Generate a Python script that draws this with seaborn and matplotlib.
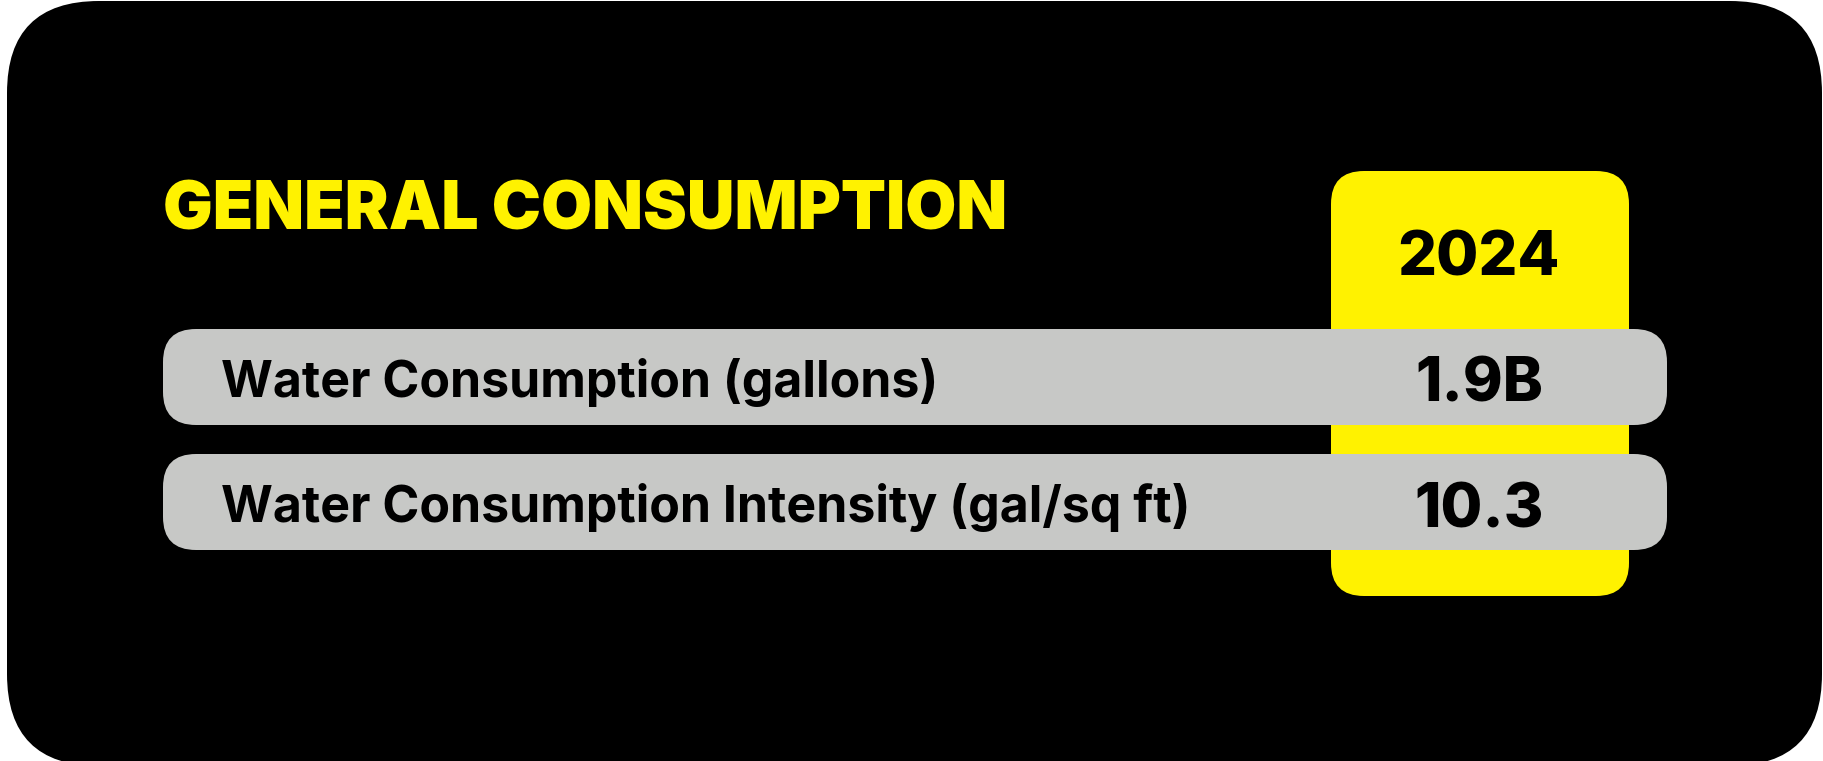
import matplotlib
matplotlib.use("Agg")
import matplotlib.pyplot as plt
from matplotlib.patches import FancyBboxPatch
import seaborn as sns

title = "GENERAL CONSUMPTION"
year = "2024"
metrics = ["Water Consumption (gallons)", "Water Consumption Intensity (gal/sq ft)"]
values = ["1.9B", "10.3"]

sns.set_theme(style="white")
plt.rcParams['font.family'] = ['Inter', 'DejaVu Sans']

W, H = 1824, 761
fig = plt.figure(figsize=(W / 100, H / 100), dpi=100)
fig.patch.set_facecolor("white")
ax = fig.add_axes([0, 0, 1, 1])
ax.set_xlim(0, W)
ax.set_ylim(H, 0)
ax.axis("off")

YELLOW = "#FFF200"
GRAY = "#C7C8C6"

def rbox(x0, y0, x1, y1, r, color, z):
    p = FancyBboxPatch((x0, y0), x1 - x0, y1 - y0,
                       boxstyle=f"round,pad=0,rounding_size={r}",
                       facecolor=color, edgecolor="none", zorder=z)
    ax.add_patch(p)

# background panel
rbox(7, 1, 1822, 766, 92, "black", 0)
# year column
rbox(1331, 171, 1629, 596, 33, YELLOW, 1)

ax.text(163, 230, title, color=YELLOW, fontsize=47.5, fontweight=900,
        ha="left", va="baseline", zorder=5)
ax.text(1478, 275, year, color="black", fontsize=44, fontweight=800,
        ha="center", va="baseline", zorder=5)

row_tops = [329, 454]
row_h = 96
for i, (m, v) in enumerate(zip(metrics, values)):
    t = row_tops[i]
    rbox(163, t, 1667, t + row_h, 33, GRAY, 2)
    ax.text(221, t + 68, m, color="black", fontsize=36, fontweight=700,
            ha="left", va="baseline", zorder=5)
    ax.text(1479, t + 73, v, color="black", fontsize=43.5, fontweight=800,
            ha="center", va="baseline", zorder=5)

fig.savefig("out.png", dpi=100, facecolor="white")
